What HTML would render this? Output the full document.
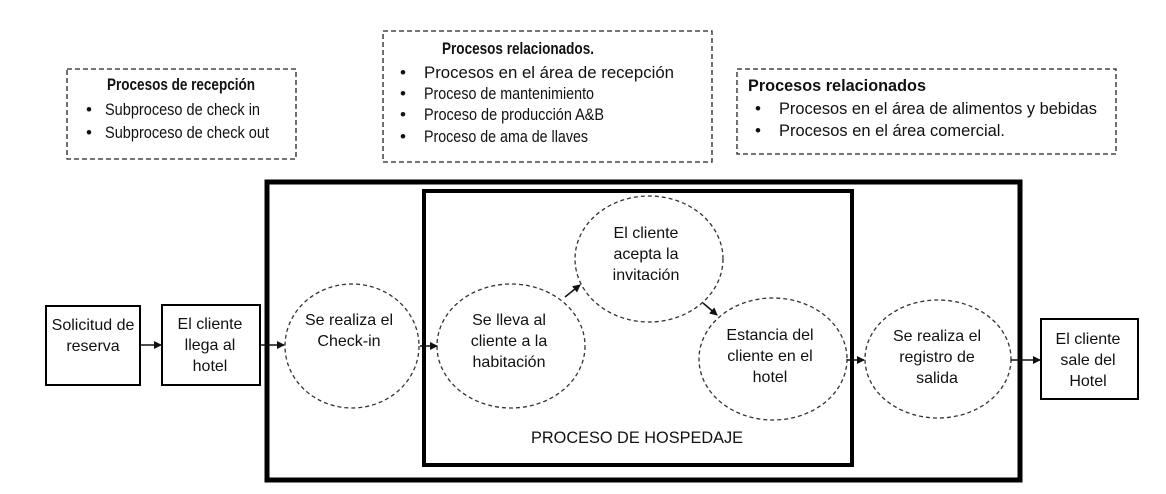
<!DOCTYPE html>
<html><head><meta charset="utf-8"><style>
html,body{margin:0;padding:0;background:#fff;width:1166px;height:494px;overflow:hidden}
text{font-family:"Liberation Sans",Arial,sans-serif;font-size:16px;fill:#111}
.t{font-size:17px}
.b{font-weight:bold}
</style></head><body>
<svg width="1166" height="494" viewBox="0 0 1166 494" xmlns="http://www.w3.org/2000/svg">
<defs><marker id="a" markerWidth="8" markerHeight="8" refX="7" refY="4" orient="auto" markerUnits="userSpaceOnUse"><path d="M0,0 L8,4 L0,8 z" fill="#111"/></marker></defs>
<g fill="none" stroke="#222" stroke-width="1.3" stroke-dasharray="5,3">
<rect x="67" y="69" width="229" height="90"/>
<rect x="383" y="31" width="329" height="131"/>
<rect x="737" y="69" width="379" height="85"/>
</g>
<g class="t">
<text class="t b" x="181" y="90" text-anchor="middle" textLength="148" lengthAdjust="spacingAndGlyphs">Procesos de recepción</text>
<text class="t" x="86" y="115">•</text><text class="t" x="105" y="115" textLength="155" lengthAdjust="spacingAndGlyphs">Subproceso de check in</text>
<text class="t" x="86" y="138">•</text><text class="t" x="105" y="138" textLength="164" lengthAdjust="spacingAndGlyphs">Subproceso de check out</text>

<text class="t b" x="518" y="54" text-anchor="middle" textLength="152" lengthAdjust="spacingAndGlyphs">Procesos relacionados.</text>
<text class="t" x="400" y="78">•</text><text class="t" x="424" y="78" textLength="250" lengthAdjust="spacingAndGlyphs">Procesos en el área de recepción</text>
<text class="t" x="400" y="99">•</text><text class="t" x="424" y="99" textLength="170" lengthAdjust="spacingAndGlyphs">Proceso de mantenimiento</text>
<text class="t" x="400" y="120">•</text><text class="t" x="424" y="120" textLength="180" lengthAdjust="spacingAndGlyphs">Proceso de producción A&amp;B</text>
<text class="t" x="400" y="142">•</text><text class="t" x="424" y="142" textLength="164" lengthAdjust="spacingAndGlyphs">Proceso de ama de llaves</text>

<text class="t b" x="748" y="91" textLength="178" lengthAdjust="spacingAndGlyphs">Procesos relacionados</text>
<text class="t" x="755" y="114">•</text><text class="t" x="779" y="114" textLength="318" lengthAdjust="spacingAndGlyphs">Procesos en el área de alimentos y bebidas</text>
<text class="t" x="755" y="136">•</text><text class="t" x="779" y="136" textLength="226" lengthAdjust="spacingAndGlyphs">Procesos en el área comercial.</text>
</g>

<rect x="267" y="182" width="753" height="298" fill="none" stroke="#000" stroke-width="5"/>
<rect x="424" y="191" width="428" height="274" fill="none" stroke="#000" stroke-width="4"/>
<text class="t" x="637" y="443" text-anchor="middle" textLength="212" lengthAdjust="spacingAndGlyphs">PROCESO DE HOSPEDAJE</text>

<g fill="#fff" stroke="#000" stroke-width="2">
<rect x="46" y="306" width="94" height="79"/>
<rect x="162" y="305" width="98" height="80"/>
<rect x="1041" y="319" width="97" height="80"/>
</g>
<g fill="none" stroke="#333" stroke-width="1.3" stroke-dasharray="4,3">
<ellipse cx="352" cy="346" rx="67" ry="62"/>
<ellipse cx="511" cy="346" rx="74" ry="62"/>
<ellipse cx="649" cy="259" rx="74" ry="63"/>
<ellipse cx="773" cy="359" rx="74" ry="61"/>
<ellipse cx="938" cy="359" rx="73" ry="59"/>
</g>
<g stroke="#111" stroke-width="1.5" marker-end="url(#a)">
<line x1="140" y1="345" x2="161" y2="345"/>
<line x1="260" y1="345" x2="284" y2="345"/>
<line x1="420" y1="346" x2="437" y2="346"/>
<line x1="565" y1="297" x2="580" y2="285"/>
<line x1="703" y1="303" x2="717" y2="315"/>
<line x1="847" y1="360" x2="864" y2="360"/>
<line x1="1011" y1="360" x2="1040" y2="360"/>
</g>
<g text-anchor="middle">
<text x="93" y="330">Solicitud de</text><text x="93" y="351">reserva</text>
<text x="210" y="329">El cliente</text><text x="210" y="350">llega al</text><text x="210" y="371">hotel</text>
<text x="349" y="325">Se realiza el</text><text x="349" y="346">Check-in</text>
<text x="509" y="325">Se lleva al</text><text x="509" y="346">cliente a la</text><text x="509" y="367">habitación</text>
<text x="646" y="238">El cliente</text><text x="646" y="259">acepta la</text><text x="646" y="280">invitación</text>
<text x="770" y="340">Estancia del</text><text x="770" y="361">cliente en el</text><text x="770" y="382">hotel</text>
<text x="937" y="341">Se realiza el</text><text x="937" y="362">registro de</text><text x="937" y="383">salida</text>
<text x="1088" y="344">El cliente</text><text x="1088" y="365">sale del</text><text x="1088" y="386">Hotel</text>
</g>
</svg>
</body></html>
